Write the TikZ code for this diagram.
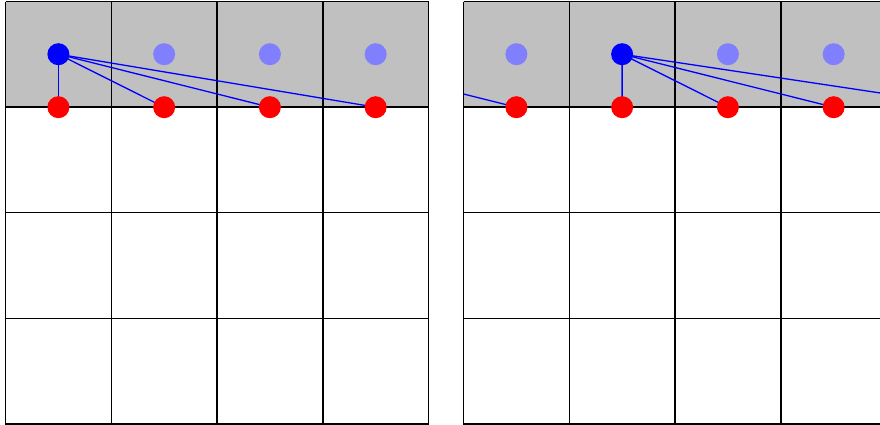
\documentclass[tikz,border=0pt]{standalone}
\definecolor{cellgrey}{HTML}{C0C0C0}
\definecolor{lightdot}{HTML}{8080FF}
\tikzset{
  gridline/.style={black, line width=1.5pt},
  link/.style={blue, line width=1.3pt},
  srcdot/.style={circle, fill=blue, inner sep=0pt, minimum size=22pt},
  otherdot/.style={circle, fill=lightdot, inner sep=0pt, minimum size=22pt},
  reddot/.style={circle, fill=red, inner sep=0pt, minimum size=22pt},
}
\begin{document}
\begin{tikzpicture}[x=1pt,y=-1pt]
\useasboundingbox (0,0) rectangle (880,424);
\fill[white] (0,0) rectangle (880,424);
% ---------- left panel ----------
\fill[cellgrey] (5.5,1.5) rectangle (428.5,106.8);
\foreach \i in {0,...,4} {
  \draw[gridline] ({5.5+105.75*\i},1.5) -- ({5.5+105.75*\i},426);
  \draw[gridline] (5.5,{1.5+105.6*\i}) -- (428.5,{1.5+105.6*\i});
}
\coordinate (lb) at (58.4,54.2);
\foreach \i in {0,...,3} {
  \coordinate (lr\i) at ({58.4+105.75*\i},107.2);
}
\foreach \i in {1,2,3} { \coordinate (lo\i) at ({58.4+105.75*\i},54.2); }
\foreach \i in {0,...,3} { \draw[link] (lb) -- (lr\i); }
\foreach \i in {1,2,3} { \node[otherdot] (nlo\i) at (lo\i) {}; }
\node[srcdot] (nlb) at (lb) {};
\foreach \i in {0,...,3} { \node[reddot] (nlr\i) at (lr\i) {}; }
% ---------- right panel ----------
\fill[cellgrey] (463.5,1.5) rectangle (890,106.8);
\foreach \i in {0,...,4} {
  \draw[gridline] ({463.5+105.75*\i},1.5) -- ({463.5+105.75*\i},426);
  \draw[gridline] (463.5,{1.5+105.6*\i}) -- (890,{1.5+105.6*\i});
}
\coordinate (rb) at (622.1,54.2);
\foreach \i in {0,...,3} { \coordinate (rr\i) at ({516.4+105.75*\i},107.2); }
\foreach \i in {0,2,3} { \coordinate (ro\i) at ({516.4+105.75*\i},54.2); }
\coordinate (rfar) at (975,107.2);
\coordinate (rleft) at (304,54.2);
\begin{scope}
  \clip (463.5,0) rectangle (890,424);
  \foreach \i in {1,2,3} { \draw[link] (rb) -- (rr\i); }
  \draw[link] (rb) -- (rfar);
  \draw[link] (rleft) -- (rr0);
\end{scope}
\foreach \i in {0,2,3} { \node[otherdot] (nro\i) at (ro\i) {}; }
\node[srcdot] (nrb) at (rb) {};
\foreach \i in {0,...,3} { \node[reddot] (nrr\i) at (rr\i) {}; }
\end{tikzpicture}
\end{document}
